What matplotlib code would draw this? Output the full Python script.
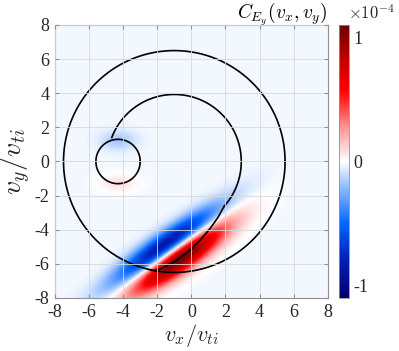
import numpy as np
import matplotlib
matplotlib.use('Agg')
import matplotlib.pyplot as plt
from matplotlib.colors import LinearSegmentedColormap

plt.rcParams['font.family'] = ['Liberation Serif', 'DejaVu Serif']
plt.rcParams['mathtext.fontset'] = 'cm'
plt.rcParams['axes.unicode_minus'] = False

# velocity grid limits (v / v_ti)
v_lim = 8.0
ticks = [-8, -6, -4, -2, 0, 2, 4, 6, 8]

# correlation blobs, values in units of 1e-4
# elongated band: origin, angle (deg), and per-blob along/perp offsets, widths, amplitudes
band_origin = (-1.3, -5.4)
band_angle = 35.0
band_along = [0.1, 0.3]
band_perp = [0.5, -0.6]
band_sig_along = [2.5, 2.3]
band_sig_perp = [0.5, 0.55]
band_amp = [-0.95, 1.15]

# faint blobs around the small circle
blob_x = [-4.3, -4.3]
blob_y = [1.2, -1.3]
blob_sx = [0.75, 0.75]
blob_sy = [0.4, 0.36]
blob_amp = [-0.15, 0.1]

background_level = -0.02
clim = 1.1

# boundary curves
big_center, big_radius = (-1.0, 0.0), 6.5
small_center, small_radius = (-4.3, 0.0), 1.3
arc_center, arc_radius = (-1.0, 0.0), 3.93
arc_start, arc_end = 159.0, -42.0   # degrees, clockwise
tail_x = [1.92, 1.58, 1.10, 0.51, -0.08, -0.86, -1.64, -2.13, -2.35]
tail_y = [-2.62, -3.25, -3.93, -4.62, -5.20, -5.79, -6.22, -6.40, -6.38]

vx = np.linspace(-v_lim, v_lim, 321)
vy = np.linspace(-v_lim, v_lim, 321)
VX, VY = np.meshgrid(vx, vy)

C = np.full(VX.shape, background_level)
th = np.deg2rad(band_angle)
for s0, p0, ss, sp, a in zip(band_along, band_perp, band_sig_along, band_sig_perp, band_amp):
    dx = VX - band_origin[0]
    dy = VY - band_origin[1]
    s = dx*np.cos(th) + dy*np.sin(th)
    p = -dx*np.sin(th) + dy*np.cos(th)
    C += a*np.exp(-0.5*((s - s0)/ss)**2 - 0.5*((p - p0)/sp)**2)
for x0, y0, sx, sy, a in zip(blob_x, blob_y, blob_sx, blob_sy, blob_amp):
    C += a*np.exp(-0.5*((VX - x0)/sx)**2 - 0.5*((VY - y0)/sy)**2)

cmap = LinearSegmentedColormap.from_list('bwr_matlab', [
    (0.0, '#000070'), (0.14, '#0020b8'), (0.27, '#0066ff'), (0.40, '#8ab8ff'),
    (0.5, '#ffffff'), (0.62, '#ff9a9a'), (0.76, '#ff0000'), (0.88, '#c00000'),
    (1.0, '#6a0000')])

fig = plt.figure(figsize=(3.99, 3.51), dpi=100)
ax = fig.add_axes([0.1378, 0.151, 0.6835, 0.7778])
im = ax.imshow(C, extent=[-v_lim, v_lim, -v_lim, v_lim], origin='lower',
               cmap=cmap, vmin=-clim, vmax=clim, interpolation='bilinear', aspect='auto')

t = np.linspace(0, 2*np.pi, 400)
ax.plot(big_center[0] + big_radius*np.cos(t), big_center[1] + big_radius*np.sin(t), 'k', lw=1.2)
ax.plot(small_center[0] + small_radius*np.cos(t), small_center[1] + small_radius*np.sin(t), 'k', lw=1.2)
ta = np.deg2rad(np.linspace(arc_start, arc_end, 300))
ax.plot(arc_center[0] + arc_radius*np.cos(ta), arc_center[1] + arc_radius*np.sin(ta), 'k', lw=1.2)
ax.plot(tail_x, tail_y, 'k', lw=1.2)

ax.set_xlim(-v_lim, v_lim)
ax.set_ylim(-v_lim, v_lim)
ax.set_xticks(ticks)
ax.set_yticks(ticks)
ax.grid(True, color='#d8d8d8', lw=0.6)
ax.set_axisbelow(False)
ax.tick_params(direction='in', length=3, top=True, right=True, labelsize=13,
               colors='#262626', color='#909090', pad=4)
for sp in ax.spines.values():
    sp.set_color('#909090')
    sp.set_linewidth(0.8)
ax.set_xlabel(r'$v_x/v_{ti}$', fontsize=16, color='#262626', labelpad=1)
ax.set_ylabel(r'$v_y/v_{ti}$', fontsize=20, color='#262626', labelpad=1)
ax.set_title(r'$C_{E_y}(v_x,v_y)$', fontsize=14, loc='right', pad=5)

cax = fig.add_axes([0.8496, 0.151, 0.0263, 0.7778])
cb = fig.colorbar(im, cax=cax, ticks=[-1, 0, 1])
cb.ax.tick_params(length=0, labelsize=13, colors='#262626', pad=3)
cb.outline.set_edgecolor('#909090')
cb.outline.set_linewidth(0.6)
fig.text(0.873, 0.935, r'$\times 10^{-4}$', fontsize=12, ha='left', va='bottom',
         color='#262626')

plt.savefig('out.png', dpi=100)
